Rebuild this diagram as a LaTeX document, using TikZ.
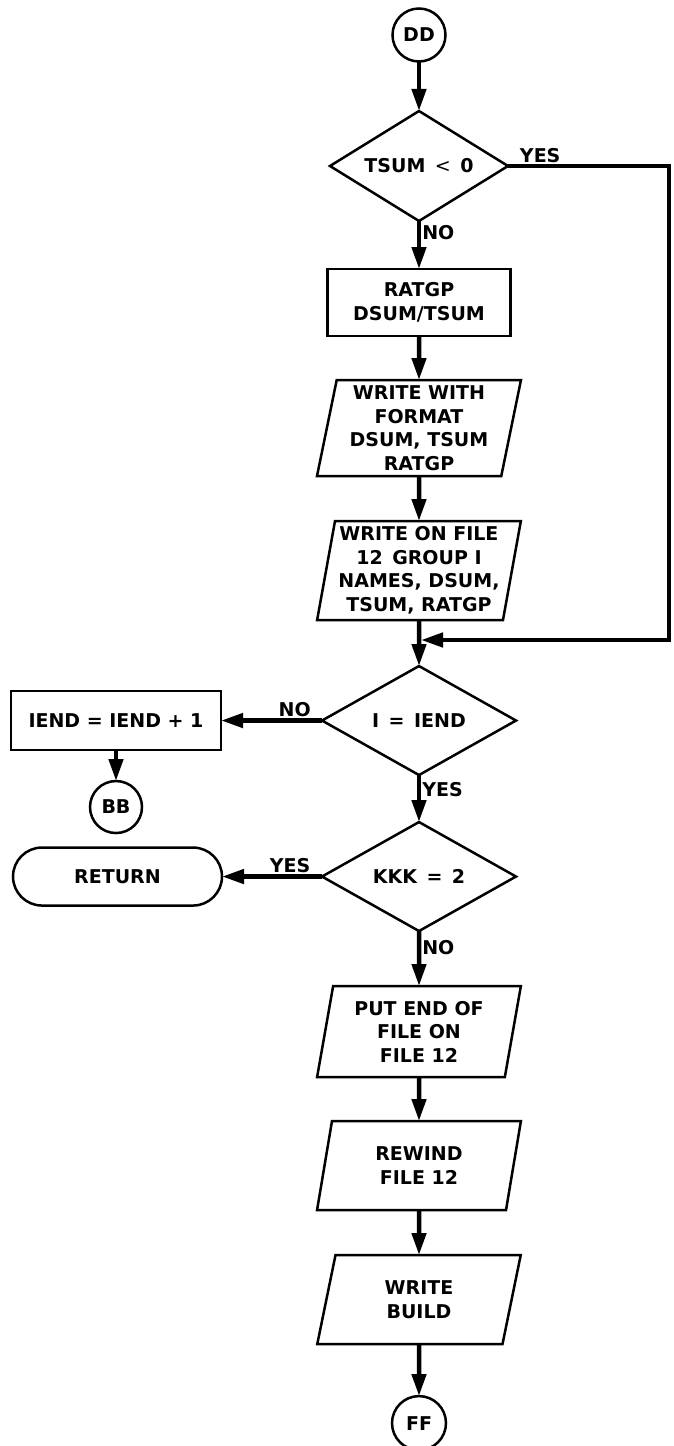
\documentclass[tikz,border=0pt]{standalone}
\usepackage{fontspec}
\setmainfont{DejaVu Sans}
\usepackage{tikz}
\usetikzlibrary{arrows.meta, positioning, shapes.geometric}

\begin{document}
\begin{tikzpicture}[
    x=1pt, y=1pt,
    font=\fontsize{19}{23.5}\selectfont\bfseries,
    every node/.style={outer sep=0pt},
    conn/.style={circle, draw, line width=2.5pt, minimum size=53pt, inner sep=0pt},
    decision/.style={diamond, draw, aspect=1.75, line width=2.5pt, minimum width=194pt, minimum height=109pt, inner sep=0pt},
    box/.style={rectangle, draw, line width=2.5pt, align=center, minimum width=183pt, minimum height=67pt},
    io/.style={trapezium, trapezium left angle=79, trapezium right angle=101, trapezium stretches=true, draw, line width=2.5pt, align=center, minimum width=204pt, minimum height=92pt, inner sep=1pt},
    term/.style={rectangle, draw, rounded corners=29pt, line width=2.5pt, minimum width=209pt, minimum height=58pt},
    arrow/.style={-{Triangle[length=22pt, width=14pt]}, line width=4.5pt}
]

\useasboundingbox (0,0) rectangle (674,-1446);

\node[conn] (dd) at (419,-35) {DD};
\node[decision, below=49.5pt of dd, minimum width=178pt, minimum height=110pt] (tsum) {TSUM\enspace{\mdseries <}\enspace0};
\node[box, below=48pt of tsum] (ratgp) {RATGP\\DSUM/TSUM};
\node[io, below=44pt of ratgp, minimum height=96pt] (wfmt) {WRITE WITH\\FORMAT\\DSUM, TSUM\\RATGP};
\node[io, below=45pt of wfmt, minimum height=99pt] (wfile) {WRITE ON FILE\\12\enspace GROUP I\\NAMES, DSUM,\\TSUM, RATGP};
\node[decision, below=46pt of wfile] (iend) {I\enspace=\enspace IEND};
\node[box, left=101pt of iend, minimum width=210pt, minimum height=59pt] (incr) {IEND = IEND + 1};
\node[conn, below=31pt of incr, minimum size=52pt] (bb) {BB};
\node[decision, below=47pt of iend] (kkk) {KKK\enspace=\enspace2};
\node[term, left=100pt of kkk] (ret) {RETURN};
\node[io, below=55pt of kkk, minimum height=91pt] (eof) {PUT END OF\\FILE ON\\FILE 12};
\node[io, below=44pt of eof, minimum height=89pt] (rew) {REWIND\\FILE 12};
\node[io, below=45pt of rew, minimum height=89pt] (build) {WRITE\\BUILD};
\node[conn, below=52pt of build, minimum size=54pt] (ff) {FF};

\coordinate (yesend) at (669,-640);
\coordinate (join) at (wfile.south |- yesend);

\draw[arrow] (dd) -- (tsum);
\draw[arrow] (tsum) -- node[right, pos=.25]{NO} (ratgp);
\draw[arrow] (tsum.east) -- node[above, pos=.2]{YES} (tsum.east -| yesend) -- (yesend) -- ([xshift=2pt]join);
\draw[arrow] (ratgp) -- (wfmt);
\draw[arrow] (wfmt) -- (wfile);
\draw[arrow] (wfile) -- (iend);
\draw[arrow] (iend.west) -- node[above, pos=.27]{NO} (incr.east);
\draw[arrow] (incr) -- (bb);
\draw[arrow] (iend) -- node[right, pos=.3]{YES} (kkk);
\draw[arrow] (kkk.west) -- node[above, pos=.32]{YES} (ret.east);
\draw[arrow] (kkk) -- node[right, pos=.3]{NO} (eof);
\draw[arrow] (eof) -- (rew);
\draw[arrow] (rew) -- (build);
\draw[arrow] (build) -- (ff);

\end{tikzpicture}
\end{document}
